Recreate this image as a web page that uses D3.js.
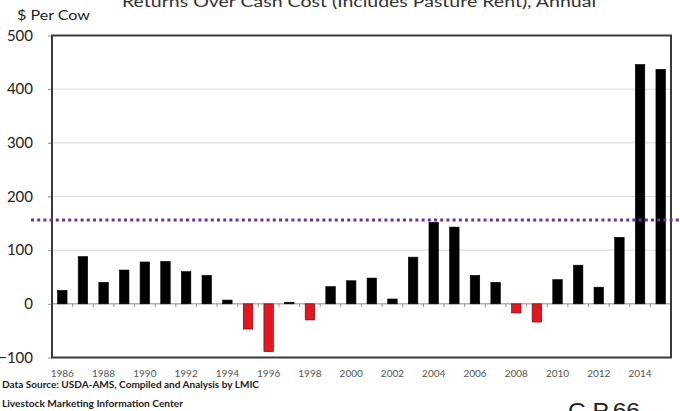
<!DOCTYPE html>
<html>
<head>
<meta charset="utf-8">
<script src="https://cdn.jsdelivr.net/npm/d3@7"></script>
<style>
  body { margin: 0; background: #fff; }
  svg { display: block; font-family: Lato, "Open Sans", sans-serif; }
</style>
</head>
<body>
<div id="canvas"></div>
<script>
const years = d3.range(1986, 2016);
const returns = [25, 88, 40, 63, 78, 79, 60, 53, 7, -47, -89, 3, -30, 32, 43,
                 48, 9, 87, 152, 143, 53, 40, -17, -34, 45, 72, 31, 124, 446, 437];
const yTicks = [-100, 0, 100, 200, 300, 400, 500];
const yearLabels = d3.range(1986, 2015, 2);
const refLine = 156;

const W = 680, H = 411;
const plotLeft = 52, plotRight = 671, plotTop = 35.5, plotBottom = 357.5;

const svg = d3.select("#canvas").append("svg")
    .attr("width", W)
    .attr("height", H);

const x = d3.scaleBand()
    .domain(years)
    .range([plotLeft, plotRight])
    .paddingInner(0.54)
    .paddingOuter(0.27);

const y = d3.scaleLinear()
    .domain([-100, 500])
    .range([plotBottom, plotTop]);

// grid lines
svg.append("g")
    .selectAll("line")
    .data(yTicks.filter(d => d > -100 && d < 500 && d !== 0))
    .join("line")
    .attr("x1", plotLeft - 4)
    .attr("x2", plotRight)
    .attr("y1", d => y(d))
    .attr("y2", d => y(d))
    .attr("stroke", "#d9d9d9")
    .attr("stroke-width", 1);

// y axis labels + ticks
const yAxis = svg.append("g")
    .attr("transform", `translate(${plotLeft},0)`)
    .call(d3.axisLeft(y).tickValues(yTicks).tickSize(4).tickPadding(15));
yAxis.select(".domain").remove();
yAxis.selectAll("line").attr("stroke", "#999");
yAxis.selectAll("text")
    .attr("font-size", 15)
    .attr("fill", "#222")
    .attr("font-family", "Lato, sans-serif");

// zero line with small ticks at category boundaries
svg.append("line")
    .attr("x1", plotLeft)
    .attr("x2", plotRight)
    .attr("y1", y(0))
    .attr("y2", y(0))
    .attr("stroke", "#8c8c8c")
    .attr("stroke-width", 1);

svg.append("g")
    .selectAll("line")
    .data(years.slice(1))
    .join("line")
    .attr("x1", d => x(d) - x.step() * x.paddingInner() / 2)
    .attr("x2", d => x(d) - x.step() * x.paddingInner() / 2)
    .attr("y1", y(0))
    .attr("y2", y(0) + 3)
    .attr("stroke", "#8c8c8c");

// bars
svg.append("g")
    .selectAll("rect")
    .data(years.map((yr, i) => ({ yr, v: returns[i] })))
    .join("rect")
    .attr("x", d => x(d.yr))
    .attr("width", x.bandwidth())
    .attr("y", d => y(Math.max(0, d.v)))
    .attr("height", d => Math.abs(y(d.v) - y(0)))
    .attr("fill", d => d.v < 0 ? "#e8141e" : "#000")
    .attr("stroke", d => d.v < 0 ? "#5a0a0a" : "#000")
    .attr("stroke-width", 0.6);

// plot frame
svg.append("rect")
    .attr("x", plotLeft)
    .attr("y", plotTop)
    .attr("width", plotRight - plotLeft)
    .attr("height", plotBottom - plotTop)
    .attr("fill", "none")
    .attr("stroke", "#3a3a3a")
    .attr("stroke-width", 2);

// reference dotted line
svg.append("line")
    .attr("x1", 31)
    .attr("x2", W)
    .attr("y1", y(refLine))
    .attr("y2", y(refLine))
    .attr("stroke", "#7030a0")
    .attr("stroke-width", 3)
    .attr("stroke-dasharray", "3,3.2");

// x labels
svg.append("g")
    .selectAll("text")
    .data(yearLabels)
    .join("text")
    .attr("x", d => x(d) + x.bandwidth() / 2)
    .attr("y", 376.5)
    .attr("text-anchor", "middle")
    .attr("font-size", 10)
    .attr("fill", "#555")
    .text(d => d);

// titles
svg.append("text")
    .attr("x", 359)
    .attr("y", 7)
    .attr("text-anchor", "middle")
    .attr("font-size", 15)
    .attr("fill", "#333")
    .attr("textLength", 474)
    .attr("lengthAdjust", "spacingAndGlyphs")
    .text("Returns Over Cash Cost (Includes Pasture Rent), Annual");

svg.append("text")
    .attr("x", 17)
    .attr("y", 20)
    .attr("font-size", 14)
    .attr("fill", "#222")
    .attr("textLength", 73)
    .attr("lengthAdjust", "spacingAndGlyphs")
    .text("$ Per Cow");

// footer
svg.append("text")
    .attr("x", 2)
    .attr("y", 387.5)
    .attr("font-size", 8.5)
    .attr("font-weight", "bold")
    .attr("fill", "#222")
    .attr("textLength", 257)
    .attr("lengthAdjust", "spacingAndGlyphs")
    .text("Data Source:  USDA-AMS, Compiled and Analysis by LMIC");

svg.append("text")
    .attr("x", 2)
    .attr("y", 406.5)
    .attr("font-size", 8.5)
    .attr("font-weight", "bold")
    .attr("fill", "#222")
    .attr("textLength", 181)
    .attr("lengthAdjust", "spacingAndGlyphs")
    .text("Livestock Marketing Information Center");

svg.append("text")
    .attr("x", 568)
    .attr("y", 417.5)
    .attr("font-size", 22)
    .attr("font-family", "Liberation Sans, Arial, sans-serif")
    .attr("fill", "#222")
    .attr("textLength", 72)
    .attr("lengthAdjust", "spacingAndGlyphs")
    .text("C.P.66");
</script>
</body>
</html>
